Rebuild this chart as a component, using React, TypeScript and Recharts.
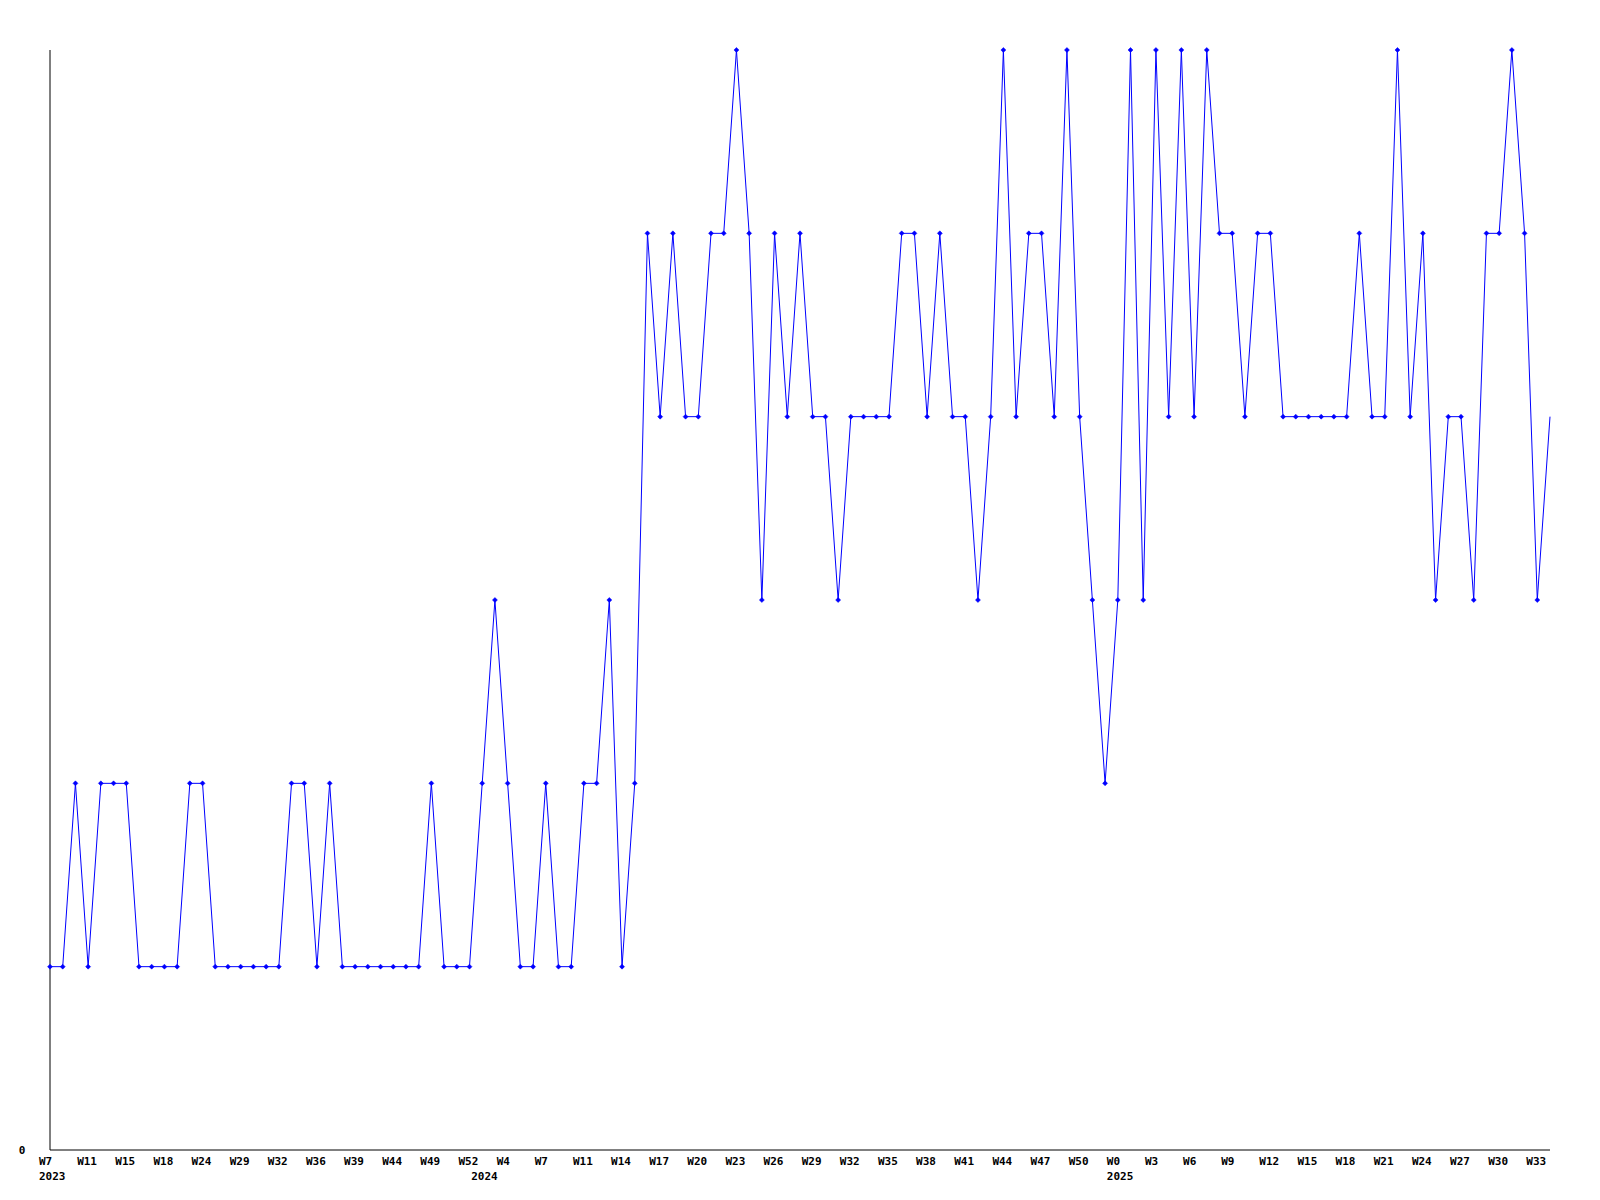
import React from "react";
import { LineChart, Line, XAxis, YAxis } from "recharts";

const weeks: string[] = [
  "W7", "W8", "W9", "W11", "W12", "W13", "W15", "W16", "W17", "W18",
  "W20", "W22", "W24", "W25", "W27", "W29", "W30", "W31", "W32", "W33",
  "W35", "W36", "W37", "W38", "W39", "W41", "W43", "W44", "W46", "W47",
  "W49", "W50", "W51", "W52",
  "W0", "W2", "W4", "W5", "W6", "W7", "W8", "W10", "W11", "W12",
  "W13", "W14", "W15", "W16", "W17", "W18", "W19", "W20", "W21", "W22",
  "W23", "W24", "W25", "W26", "W27", "W28", "W29", "W30", "W31", "W32",
  "W33", "W34", "W35", "W36", "W37", "W38", "W39", "W40", "W41", "W42",
  "W43", "W44", "W45", "W46", "W47", "W48", "W49", "W50", "W51", "W52",
  "W0", "W1", "W2", "W3", "W4", "W5", "W6", "W7", "W8", "W9",
  "W10", "W11", "W12", "W13", "W14", "W15", "W16", "W17", "W18", "W19",
  "W20", "W21", "W22", "W23", "W24", "W25", "W26", "W27", "W28", "W29",
  "W30", "W31", "W32", "W33", "W34",
];

const years: number[] = [
  ...Array(34).fill(2023),
  ...Array(50).fill(2024),
  ...Array(35).fill(2025),
];

const values: number[] = [
  1, 1, 2, 1, 2, 2, 2, 1, 1, 1,
  1, 2, 2, 1, 1, 1, 1, 1, 1, 2,
  2, 1, 2, 1, 1, 1, 1, 1, 1, 1,
  2, 1, 1, 1, 2, 3, 2, 1, 1, 2,
  1, 1, 2, 2, 3, 1, 2, 5, 4, 5,
  4, 4, 5, 5, 6, 5, 3, 5, 4, 5,
  4, 4, 3, 4, 4, 4, 4, 5, 5, 4,
  5, 4, 4, 3, 4, 6, 4, 5, 5, 4,
  6, 4, 3, 2, 3, 6, 3, 6, 4, 6,
  4, 6, 5, 5, 4, 5, 5, 4, 4, 4,
  4, 4, 4, 5, 4, 4, 6, 4, 5, 3,
  4, 4, 3, 5, 5, 6, 5, 3, 4,
];

const yTicks: number[] = [0];

const data = values.map((v, i) => ({ idx: i, week: weeks[i], year: years[i], value: v }));

const FONT = "'DejaVu Sans Mono', monospace";

const XTick = (props: any) => {
  const { x, y, payload } = props;
  const i: number = payload.index;
  const showWeek = i % 3 === 0;
  const showYear = i === 0 || years[i] !== years[i - 1];
  return (
    <g>
      {showWeek && (
        <text x={x - 11} y={y + 15} textAnchor="start" fontFamily={FONT} fontWeight="bold" fontSize={11} fill="#000">
          {weeks[i]}
        </text>
      )}
      {showYear && (
        <text x={x - 11} y={y + 30} textAnchor="start" fontFamily={FONT} fontWeight="bold" fontSize={11} fill="#000">
          {String(years[i])}
        </text>
      )}
    </g>
  );
};

const YTick = (props: any) => {
  const { y, payload } = props;
  return (
    <text x={22} y={y + 4} textAnchor="middle" fontFamily={FONT} fontWeight="bold" fontSize={11} fill="#000">
      {String(payload.value)}
    </text>
  );
};

const Dot = (props: any) => {
  const { cx, cy, index } = props;
  if (index === values.length - 1 || cx == null || cy == null) return <g key={`d${index}`} />;
  return (
    <polygon
      key={`d${index}`}
      points={`${cx},${cy - 2.5} ${cx + 2.5},${cy} ${cx},${cy + 2.5} ${cx - 2.5},${cy}`}
      fill="#0000ff"
      stroke="#0000ff"
      strokeWidth={0.5}
    />
  );
};

export default function App() {
  return (
    <div style={{ position: "absolute", left: 0, top: 0, width: 1600, height: 1200, background: "#fff" }}>
      <LineChart width={1600} height={1200} data={data} margin={{ top: 50, right: 50, bottom: 0, left: 0 }}>
        <XAxis
          dataKey="idx"
          type="category"
          interval={0}
          tick={<XTick />}
          tickLine={false}
          tickSize={0}
          tickMargin={0}
          height={50}
          axisLine={{ stroke: "#000", strokeWidth: 1 }}
        />
        <YAxis
          domain={[0, 6]}
          ticks={yTicks}
          width={50}
          tick={<YTick />}
          tickLine={false}
          tickSize={0}
          axisLine={{ stroke: "#000", strokeWidth: 1 }}
        />
        <Line
          dataKey="value"
          type="linear"
          stroke="#0000ff"
          strokeWidth={1}
          dot={<Dot />}
          activeDot={false}
          isAnimationActive={false}
        />
      </LineChart>
    </div>
  );
}
